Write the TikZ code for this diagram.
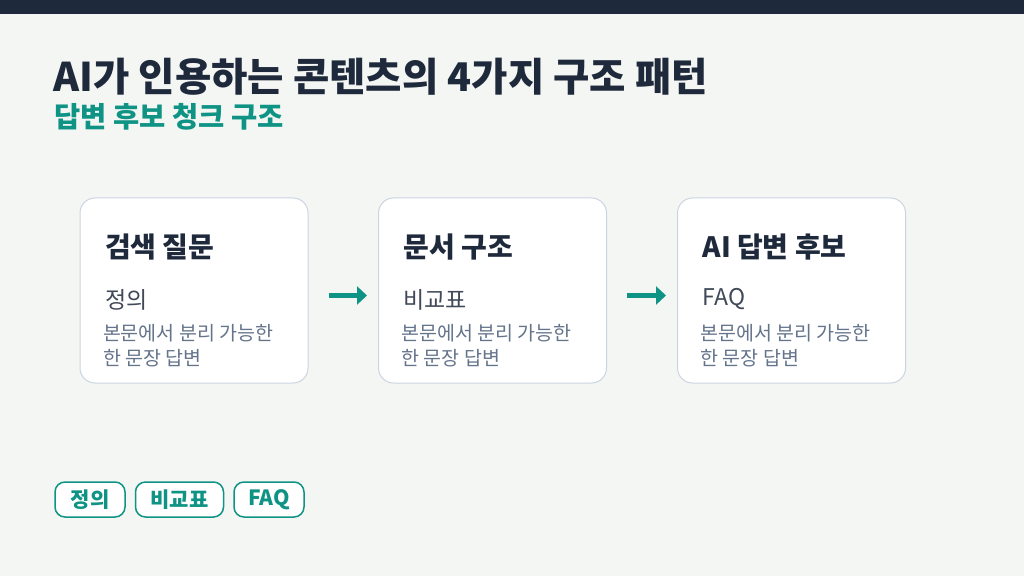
\documentclass[tikz,border=0pt]{standalone}
\usepackage{fontspec}
\setmainfont{Noto Sans CJK KR}
\usepackage{xcolor}
\usetikzlibrary{positioning,arrows.meta}
\definecolor{navy}{HTML}{1E293B}
\definecolor{bgc}{HTML}{F4F6F3}
\definecolor{teal}{HTML}{0E9384}
\definecolor{edge}{HTML}{CBD5E1}
\definecolor{greytext}{HTML}{64748B}
\tikzset{
  card/.style={draw=edge, line width=1pt, fill=white, rounded corners=15pt, minimum width=228pt, minimum height=185pt},
  head/.style={anchor=west, font=\fontsize{28}{32}\selectfont\bfseries, text=navy},
  kind/.style={anchor=west, font=\fontsize{23}{26}\selectfont, text=navy!85},
  desc/.style={anchor=north west, align=left, font=\fontsize{19.5}{25}\selectfont, text=greytext},
  flow/.style={-{Triangle[length=10pt,width=18pt]}, draw=teal, line width=5pt},
  tag/.style={draw=teal, line width=1.5pt, rounded corners=10pt, fill=white, minimum height=35pt, text=teal, font=\fontsize{21}{23}\selectfont\bfseries}
}
\begin{document}
\begin{tikzpicture}[x=1pt,y=1pt]
\useasboundingbox (0,0) rectangle (1024,576);
\fill[bgc] (0,0) rectangle (1024,576);
\fill[navy] (0,562) rectangle (1024,576);

\node[anchor=west, font=\fontsize{39.5}{44}\selectfont\bfseries, text=navy] (title) at (50,499) {AI가 인용하는 콘텐츠의 4가지 구조 패턴};
\node[anchor=west, font=\fontsize{28.5}{32}\selectfont\bfseries, text=teal] (sub) at (51,459) {답변 후보 청크 구조};

% cards
\node[card] (c1) at (194,285.5) {};
\node[card] (c2) at (492.5,285.5) {};
\node[card] (c3) at (791.5,285.5) {};

\foreach \c/\h/\k in {c1/검색 질문/정의, c2/문서 구조/비교표, c3/AI 답변 후보/FAQ}{
  \node[head] at ([xshift=22pt,yshift=-50pt]\c.north west) {\h};
  \node[kind] at ([xshift=22pt,yshift=-102pt]\c.north west) {\k};
  \node[desc] at ([xshift=20pt,yshift=-123pt]\c.north west) {본문에서 분리 가능한\\한 문장 답변};
}

\coordinate (a1) at ([xshift=20pt]c1.east);
\coordinate (b1) at ([xshift=-11pt]c2.west);
\coordinate (a2) at ([xshift=20pt]c2.east);
\coordinate (b2) at ([xshift=-11pt]c3.west);
\draw[flow] ([yshift=-5pt]a1) -- ([yshift=-5pt]b1);
\draw[flow] ([yshift=-5pt]a2) -- ([yshift=-5pt]b2);

% tags
\node[tag, minimum width=70pt] (t1) at (90,76.5) {정의};
\node[tag, minimum width=88pt, right=9pt of t1] (t2) {비교표};
\node[tag, minimum width=70pt, right=9pt of t2] (t3) {FAQ};
\end{tikzpicture}
\end{document}
